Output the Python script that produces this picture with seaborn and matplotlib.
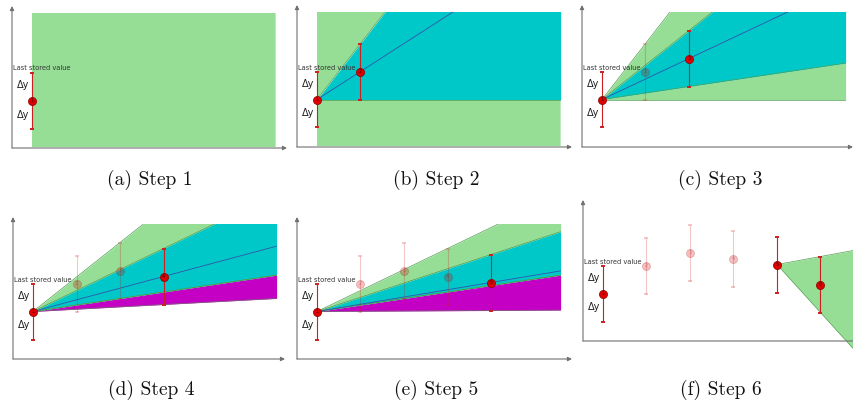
import numpy as np
import pandas as pd
import matplotlib
matplotlib.use("Agg")
import matplotlib.pyplot as plt
import matplotlib.patches as mpatches
import seaborn as sns

# Data: sampled values (time index, value) and the deadband
step_t = [0, 1, 2, 3, 4, 5]
step_v = [0, 28, 41, 35, 29, 9]
delta_y = 28
captions = ["(a) Step 1", "(b) Step 2", "(c) Step 3",
            "(d) Step 4", "(e) Step 5", "(f) Step 6"]

# Region (door area) extents in data units
region_end = 5.6
region_top = 88
region_bottom = -46

# Colours
green = "#96dd96"
cyan = "#00c8c8"
magenta = "#c400c4"
edge_green = "#4f9f4f"
blue_line = "#3355aa"
red = "#e00000"
bar_red = "#cc2020"

# Layout: panel origins in pixels (left, axis-line y) and sizes
W, H = 854, 409
px_per_t = 43.5
p1_offset = 20
below_p1 = 47.5
panels = [(12, 148, 275, 142), (297, 147, 275, 142), (582, 147, 271, 142),
          (13, 359, 272, 142), (297, 359, 275, 142), (583, 341, 275, 141)]
caption_pos = [(150, 180), (436, 180), (720, 180),
               (151, 390), (436, 390), (721, 390)]

sns.set_theme(style="white")
plt.rcParams['font.family'] = ['DejaVu Sans']

fig = plt.figure(figsize=(W / 100, H / 100), dpi=100)
df = pd.DataFrame({"t": step_t, "v": step_v, "label": [str(i + 1) for i in range(len(step_t))]})


def fill(ax, a, b, color, clip, t0=0.0, v0=0.0, tend=region_end):
    tt = np.array([t0, tend])
    poly = ax.fill_between(tt, v0 + a * (tt - t0), v0 + b * (tt - t0), color=color,
                           lw=0, zorder=1)
    poly.set_clip_path(clip)


def line(ax, s, clip, color=edge_green, lw=0.5, t0=0.0, v0=0.0, tend=region_end):
    tt = np.array([t0, tend])
    ln, = ax.plot(tt, v0 + s * (tt - t0), color=color, lw=lw, zorder=2)
    ln.set_clip_path(clip)


def draw_points(ax, idx, alpha):
    sub = df.iloc[idx]
    ax.errorbar(sub["t"], sub["v"], yerr=delta_y, fmt="none", ecolor=bar_red,
                elinewidth=0.8, capsize=1.2, capthick=1.4, alpha=alpha, zorder=3)
    sns.scatterplot(data=sub, x="t", y="v", ax=ax, color=red, s=34,
                    edgecolor="#8a0000", linewidth=0.5, alpha=alpha, zorder=4, legend=False)
    for _, r in sub.iterrows():
        ax.text(r["t"], r["v"], r["label"], fontsize=3.6, ha="center", va="center",
                color="#3a0000", alpha=alpha, zorder=5)


BIG = 1e6
for k, (ox, oy, pw, ph) in enumerate(panels):
    step = k + 1
    ax = fig.add_axes([ox / W, (H - oy) / H, pw / W, ph / H])
    t_left = -p1_offset / px_per_t
    ax.set_xlim(t_left, t_left + pw / px_per_t)
    ax.set_ylim(-below_p1, -below_p1 + ph)
    ax.axis("off")
    ax.patch.set_alpha(0)

    # axis arrows
    arrow = dict(arrowstyle="-|>", lw=0.8, color="#707070", mutation_scale=6,
                 shrinkA=0, shrinkB=0)
    ax.annotate("", xy=(0, 1), xytext=(0, 0), xycoords="axes fraction", arrowprops=arrow)
    ax.annotate("", xy=(1, 0), xytext=(0, 0), xycoords="axes fraction", arrowprops=arrow)

    clip = mpatches.Rectangle((0, region_bottom), region_end, region_top - region_bottom,
                              transform=ax.transData, fill=False, lw=0)

    # swinging door history
    U, L = BIG, -BIG
    hist = [(U, L)]
    restart = None
    for j in range(1, step):
        t, v = step_t[j], step_v[j]
        if j >= 2 and not (L * t <= v <= U * t):
            restart = j
            break
        U = min(U, (v + delta_y) / t)
        L = max(L, (v - delta_y) / t)
        hist.append((U, L))

    if step == 1:
        fill(ax, -BIG, BIG, green, clip)
    elif restart is None:
        t, v = step_t[step - 1], step_v[step - 1]
        Up, Lp = hist[-2]
        Uc, Lc = hist[-1]
        lk = (v - delta_y) / t
        if Uc < Up:
            fill(ax, Uc, Up, green, clip)
        if Lc > Lp:
            fill(ax, Lp, Lc, green, clip)
        if lk < Lc:
            fill(ax, lk, Lc, magenta, clip)
            line(ax, lk, clip, color="#707070")
        fill(ax, Lc, Uc, cyan, clip)
        for s in (Up, Uc, Lp, Lc):
            if abs(s) < BIG:
                line(ax, s, clip)
        line(ax, v / t, clip, color=blue_line, lw=0.6)
    else:
        # door restarts from the previous point
        t0, v0 = step_t[restart - 1], step_v[restart - 1]
        t, v = step_t[restart], step_v[restart]
        up = (v + delta_y - v0) / (t - t0)
        lo = (v - delta_y - v0) / (t - t0)
        tt = np.array([t0, 6.0])
        poly = ax.fill_between(tt, v0 + lo * (tt - t0), v0 + up * (tt - t0),
                               color=green, lw=0, zorder=1)
        poly.set_clip_on(False)
        for s in (up, lo):
            ln, = ax.plot(tt, v0 + s * (tt - t0), color=edge_green, lw=0.5, zorder=2)
            ln.set_clip_on(False)

    # points
    if restart is None:
        solid = [0] + ([step - 1] if step > 1 else [])
        faded = list(range(1, step - 1))
    else:
        solid = [0, restart - 1, restart]
        faded = list(range(1, restart - 1))
    if faded:
        draw_points(ax, faded, 0.25)
    draw_points(ax, solid, 1.0)

    # annotations at the first point
    ax.annotate("Last stored value", xy=(step_t[0], step_v[0] + delta_y),
                xytext=(-19, 1), textcoords="offset pixels", fontsize=4.8,
                ha="left", va="bottom", color="#333333", zorder=6)
    ax.annotate("Δy", xy=(step_t[0], step_v[0] + delta_y * 0.55),
                xytext=(-3, 0), textcoords="offset pixels", fontsize=7,
                ha="right", va="center", color="#222222")
    ax.annotate("Δy", xy=(step_t[0], step_v[0] - delta_y * 0.5),
                xytext=(-3, 0), textcoords="offset pixels", fontsize=7,
                ha="right", va="center", color="#222222")

for (cx, cy), cap in zip(caption_pos, captions):
    fig.text(cx / W, 1 - cy / H, cap, fontsize=14, family="cmr10",
             ha="center", va="center", color="#111111")

fig.savefig("out.png", dpi=100)
